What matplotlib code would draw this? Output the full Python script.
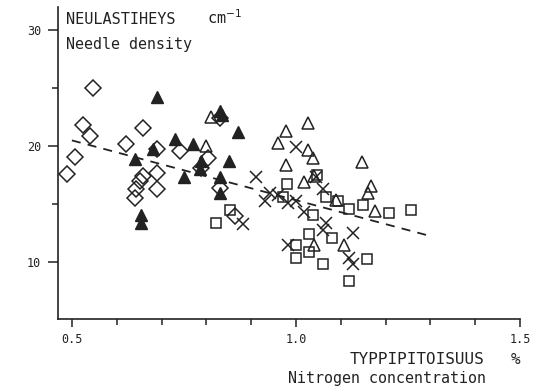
import matplotlib
matplotlib.use('Agg')
import matplotlib.pyplot as plt
import numpy as np

# open diamonds
dia_x = [0.489, 0.508, 0.525, 0.540, 0.547, 0.620, 0.659, 0.659, 0.651, 0.644,
         0.640, 0.689, 0.689, 0.689, 0.741, 0.804, 0.789, 0.830, 0.830, 0.863]
dia_y = [17.6, 19.1, 21.8, 20.9, 25.0, 20.2, 21.6, 17.4, 17.0, 16.3,
         15.5, 19.8, 17.7, 16.3, 19.6, 19.0, 18.1, 22.4, 16.4, 14.0]

# filled triangles
ftri_x = [0.689, 0.680, 0.640, 0.655, 0.655, 0.731, 0.770, 0.750, 0.830, 0.835,
          0.871, 0.850, 0.789, 0.785, 0.830, 0.830]
ftri_y = [24.2, 19.8, 18.9, 14.1, 13.4, 20.6, 20.2, 17.3, 23.0, 22.7,
          21.2, 18.7, 18.7, 18.0, 17.3, 16.0]

# open triangles
otri_x = [0.811, 0.800, 1.028, 0.978, 0.960, 1.028, 1.038, 0.978, 1.019, 1.041,
          1.147, 1.167, 1.160, 1.177, 1.089, 1.041, 1.108]
otri_y = [22.5, 20.0, 22.0, 21.3, 20.3, 19.7, 19.0, 18.4, 16.9, 17.4,
          18.6, 16.6, 16.0, 14.4, 15.4, 11.5, 11.5]

# open squares
sq_x = [0.980, 1.048, 0.971, 1.067, 1.093, 1.119, 1.149, 1.207, 1.257, 1.039,
        1.030, 1.030, 1.080, 1.060, 1.158, 1.119, 1.000, 1.000, 0.852, 0.822]
sq_y = [16.7, 17.5, 15.6, 15.6, 15.3, 14.6, 14.9, 14.2, 14.5, 14.1,
        12.4, 10.9, 12.1, 9.8, 10.3, 8.4, 10.4, 11.5, 14.5, 13.4]

# crosses
x_x = [0.911, 1.000, 0.941, 0.930, 0.959, 0.982, 1.000, 1.019, 1.045, 1.060,
       1.067, 1.060, 0.982, 0.881, 1.128, 1.119, 1.128]
x_y = [17.3, 19.9, 16.0, 15.3, 15.8, 15.1, 15.3, 14.3, 17.3, 16.3,
       13.4, 12.8, 11.5, 13.3, 12.5, 10.4, 9.8]

# regression line end points
fit_x = [0.50, 1.30]
fit_y = [20.5, 12.25]

ink = '#222222'
font = 'DejaVu Sans Mono'

fig = plt.figure(figsize=(5.5, 3.88), dpi=100)
ax = fig.add_axes([58/550, 1 - 319/388, (520 - 58)/550, (319 - 7)/388])

ax.plot(fit_x, fit_y, color=ink, lw=1.3, dashes=(5, 4))
ax.plot(dia_x, dia_y, 'D', ms=7.8, mfc='none', mec=ink, mew=1.1, ls='none')
ax.plot(ftri_x, ftri_y, '^', ms=8, mfc=ink, mec=ink, mew=1.0, ls='none')
ax.plot(otri_x, otri_y, '^', ms=8, mfc='none', mec=ink, mew=1.1, ls='none')
ax.plot(sq_x, sq_y, 's', ms=7.5, mfc='none', mec=ink, mew=1.1, ls='none')
ax.plot(x_x, x_y, 'x', ms=8.5, mec=ink, mew=1.1, ls='none')

ax.set_xlim(0.469, 1.5)
ax.set_ylim(5.1, 32)
for s in ['top', 'right']:
    ax.spines[s].set_visible(False)
for s in ['left', 'bottom']:
    ax.spines[s].set_linewidth(1.2)
    ax.spines[s].set_color(ink)

ax.set_xticks([0.5, 1.0, 1.5])
ax.set_xticklabels(['0.5', '1.0', '1.5'])
ax.set_xticks(np.arange(0.6, 1.45, 0.1), minor=True)
ax.set_yticks([10, 20, 30])
ax.set_yticks([15, 25], minor=True)
ax.tick_params(axis='both', which='major', direction='out', color=ink, width=1.1,
               labelsize=8.5, labelcolor=ink)
ax.tick_params(axis='x', which='major', length=6, pad=4)
ax.tick_params(axis='y', which='major', length=7, pad=5)
ax.tick_params(axis='both', which='minor', direction='out', length=4, width=1.1, color=ink)
for lab in ax.get_xticklabels() + ax.get_yticklabels():
    lab.set_family(font)

fig.text(66/550, 1 - 19/388, 'NEULASTIHEYS', family=font, fontsize=11,
         color=ink, va='center', ha='left')
fig.text(207/550, 1 - 18/388, 'cm$^{-1}$', family=font, fontsize=11,
         color=ink, va='center', ha='left')
fig.text(66/550, 1 - 45/388, 'Needle density', family=font, fontsize=10.8,
         color=ink, va='center', ha='left')
fig.text(350/550, 1 - 360/388, 'TYPPIPITOISUUS', family=font, fontsize=11.5,
         color=ink, va='center', ha='left')
fig.text(520/550, 1 - 360/388, '%', family=font, fontsize=11.5,
         color=ink, va='center', ha='right')
fig.text(288/550, 1 - 378/388, 'Nitrogen concentration', family=font, fontsize=10.8,
         color=ink, va='center', ha='left')

fig.savefig('out.png', dpi=100)
